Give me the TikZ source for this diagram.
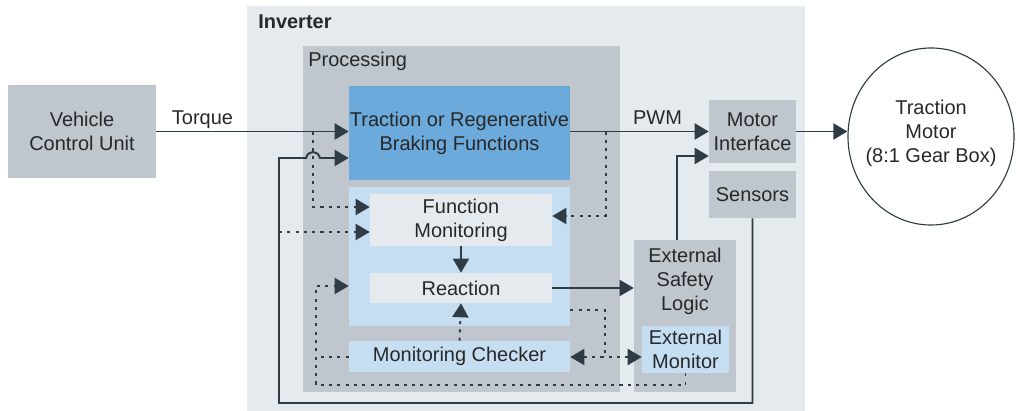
\documentclass[tikz,border=0pt]{standalone}
\usepackage{fontspec}
\setmainfont{Liberation Sans}
\usetikzlibrary{arrows.meta,shapes.geometric}
\definecolor{invbg}{RGB}{229,234,238}
\definecolor{procgray}{RGB}{191,198,206}
\definecolor{tracblue}{RGB}{108,170,220}
\definecolor{lightblue}{RGB}{198,222,241}
\definecolor{linedark}{RGB}{47,60,70}
\definecolor{textdark}{RGB}{40,40,40}

\begin{document}
\begin{tikzpicture}[x=0.025cm,y=-0.025cm,
	font=\fontsize{14.2}{17}\selectfont, text=textdark,
	box/.style={rectangle, inner sep=0pt, align=center},
	graybox/.style={box, fill=procgray},
	bluebox/.style={box, fill=lightblue},
	palebox/.style={box, fill=invbg},
	conn/.style={draw=linedark, line width=1.4pt},
	dotconn/.style={conn, dash pattern=on 2.2pt off 3.7pt},
	arr/.style={-{Triangle[length=0.35cm,width=0.4cm]}},
	darr/.style={{Triangle[length=0.35cm,width=0.4cm]}-{Triangle[length=0.35cm,width=0.4cm]}}]
\useasboundingbox (0,0) rectangle (1016,411);

% inverter and processing areas
\node (inv) [box, fill=invbg, minimum width=13.95cm, minimum height=10.125cm] at (526,208.5) {};
\node (invlabel) [anchor=west, inner sep=0pt, font=\fontsize{14.2}{17}\selectfont\bfseries] at (258,22) {Inverter};
\node (proc) [graybox, minimum width=7.925cm, minimum height=8.65cm] at (461.5,219) {};
\node (proclabel) [anchor=west, inner sep=0pt] at (308,61) {Processing};

% processing blocks
\node (trac) [box, fill=tracblue, minimum width=5.525cm, minimum height=2.35cm] at (459.5,133) {Traction or Regenerative\\Braking Functions};
\node (mon) [bluebox, minimum width=5.525cm, minimum height=3.475cm] at (459.5,256.5) {};
\node (fm) [palebox, minimum width=4.55cm, minimum height=1.3cm] at (461,220) {Function\\Monitoring};
\node (react) [palebox, minimum width=4.55cm, minimum height=0.75cm] at (461,288) {Reaction};
\node (mc) [bluebox, minimum width=5.525cm, minimum height=0.775cm] at (459.5,356.5) {Monitoring Checker};

% outside and interface blocks
\node (vcu) [graybox, minimum width=3.7cm, minimum height=2.325cm] at (82,131.5) {Vehicle\\Control Unit};
\node (esl) [graybox, minimum width=2.55cm, minimum height=3.8cm] at (685,316) {};
\node (esltext) [inner sep=0pt, align=center] at (685,281) {External\\Safety\\Logic};
\node (em) [bluebox, minimum width=2.175cm, minimum height=1.175cm] at (685.5,349.5) {External\\Monitor};
\node (mi) [graybox, minimum width=2.175cm, minimum height=1.575cm] at (752.5,131.5) {Motor\\Interface};
\node (sens) [graybox, minimum width=2.175cm, minimum height=1.175cm] at (752.5,194.5) {Sensors};
\node (motor) [ellipse, draw=linedark, line width=0.8pt, inner sep=0pt, minimum width=4.15cm, minimum height=4.425cm] at (931,136.5) {};
\node (motortext) [inner sep=0pt, align=center] at (931,133) {Traction\\Motor\\(8:1 Gear Box)};

% solid connectors
\draw[conn, arr] (vcu.east) -- node[pos=0.24, anchor=base, yshift=0.175cm] (torq) {Torque} (trac.west |- vcu.east);
\draw[conn, arr] (trac.east |- mi.west) -- node[pos=0.63, anchor=base, yshift=0.175cm] (pwm) {PWM} (mi.west);
\draw[conn, arr] (mi.east) -- (mi.east -| motor.west);
\draw[conn, arr] (sens.south) |- (279,403) |- (306,158) .. controls (308,150) and (318,150) .. (320,158) -- (trac.west |- 0,158);
\draw[conn, arr] (fm.south) -- (react.north);
\draw[conn, arr] (react.east) -- (esl.west |- react.east);
\draw[conn, arr] (esl.north -| 677,0) |- (mi.west |- 0,156);

% dotted connectors
\draw[dotconn, arr] (313,131.5) |- (fm.west |- 0,207);
\draw[dotconn, arr] (279,232) -- (fm.west |- 0,232);
\draw[dotconn, arr] (606,131.5) |- (fm.east |- 0,216);
\draw[dotconn, arr] (mc.north) -- (react.south);
\draw[dotconn] (mon.east |- 0,310) -| (605,357);
\draw[dotconn, darr] (mc.east |- 0,357) -- (em.west |- 0,357);
\draw[dotconn, arr] (em.south) |- (316,385) |- (mon.west |- 0,286);
\draw[dotconn] (mc.west |- 0,357) -- (316,357);
\end{tikzpicture}
\end{document}
